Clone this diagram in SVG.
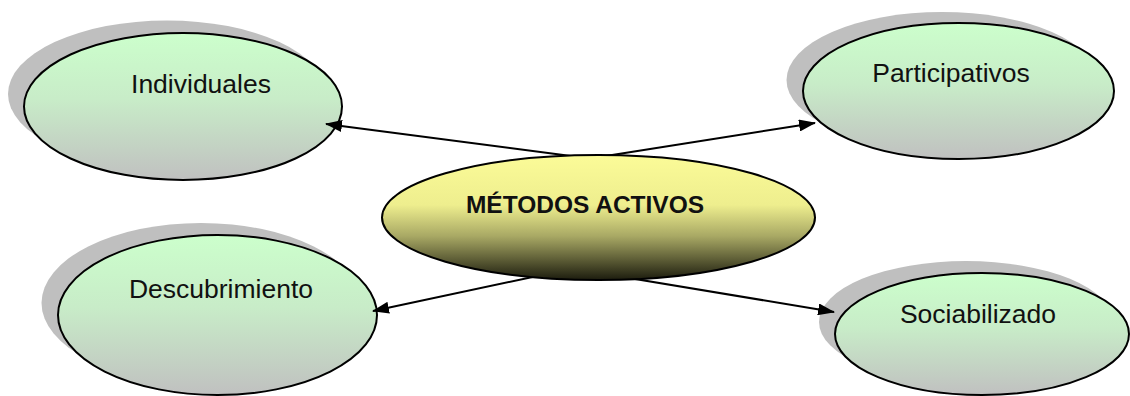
<svg xmlns="http://www.w3.org/2000/svg" width="1130" height="396" viewBox="0 0 1130 396">
<defs>
<linearGradient id="gGreen" x1="0" y1="0" x2="0" y2="1">
<stop offset="0" stop-color="#ccffcc"/>
<stop offset="0.45" stop-color="#c8ecc8"/>
<stop offset="1" stop-color="#c0c0c0"/>
</linearGradient>
<linearGradient id="gCenter" x1="0" y1="0" x2="0" y2="1">
<stop offset="0" stop-color="#fbfb98"/>
<stop offset="0.4" stop-color="#eeee8e"/>
<stop offset="0.65" stop-color="#a8a864"/>
<stop offset="1" stop-color="#1c1c0e"/>
</linearGradient>
<marker id="arrow" markerWidth="17" markerHeight="12" refX="16" refY="6" orient="auto" markerUnits="userSpaceOnUse">
<path d="M0,0 L17,6 L0,12 Z" fill="#000"/>
</marker>
</defs>
<style>
.shadow{fill:#bfbfbf;}
.leaf{fill:url(#gGreen);stroke:#000;stroke-width:2;}
.center{fill:url(#gCenter);stroke:#000;stroke-width:2;}
.lbl{font-family:"Liberation Sans",Arial,sans-serif;font-size:26.5px;fill:#111;text-anchor:middle;}
.clbl{font-family:"Liberation Sans",Arial,sans-serif;font-size:24.5px;font-weight:bold;fill:#111;text-anchor:middle;}
.conn{stroke:#000;stroke-width:2;fill:none;marker-end:url(#arrow);}
</style>
<rect width="1130" height="396" fill="#fff"/>
<g id="node-individuales">
<ellipse class="shadow" cx="167" cy="94" rx="159" ry="73.5"/>
<ellipse class="leaf" cx="183" cy="106.5" rx="159" ry="73.5"/>
<text class="lbl" x="201" y="93">Individuales</text>
</g>
<g id="node-participativos">
<ellipse class="shadow" cx="942" cy="80" rx="155.5" ry="68"/>
<ellipse class="leaf" cx="958.5" cy="91" rx="155.5" ry="68"/>
<text class="lbl" x="951" y="82">Participativos</text>
</g>
<g id="node-descubrimiento">
<ellipse class="shadow" cx="201" cy="303" rx="159.5" ry="80"/>
<ellipse class="leaf" cx="217.5" cy="315" rx="159.5" ry="80"/>
<text class="lbl" x="221" y="298">Descubrimiento</text>
</g>
<g id="node-sociabilizado">
<ellipse class="shadow" cx="966" cy="322" rx="147" ry="61"/>
<ellipse class="leaf" cx="982" cy="334" rx="147" ry="61"/>
<text class="lbl" x="978" y="323">Sociabilizado</text>
</g>
<g id="connectors">
<line class="conn" x1="590" y1="158.5" x2="326" y2="124"/>
<line class="conn" x1="590" y1="158.5" x2="815" y2="123"/>
<line class="conn" x1="575" y1="268" x2="373" y2="311"/>
<line class="conn" x1="605" y1="274" x2="834" y2="312"/>
</g>
<g id="node-center">
<ellipse class="center" cx="598.5" cy="217.5" rx="216.5" ry="62.5"/>
<text class="clbl" x="585" y="213">MÉTODOS ACTIVOS</text>
</g>
</svg>
